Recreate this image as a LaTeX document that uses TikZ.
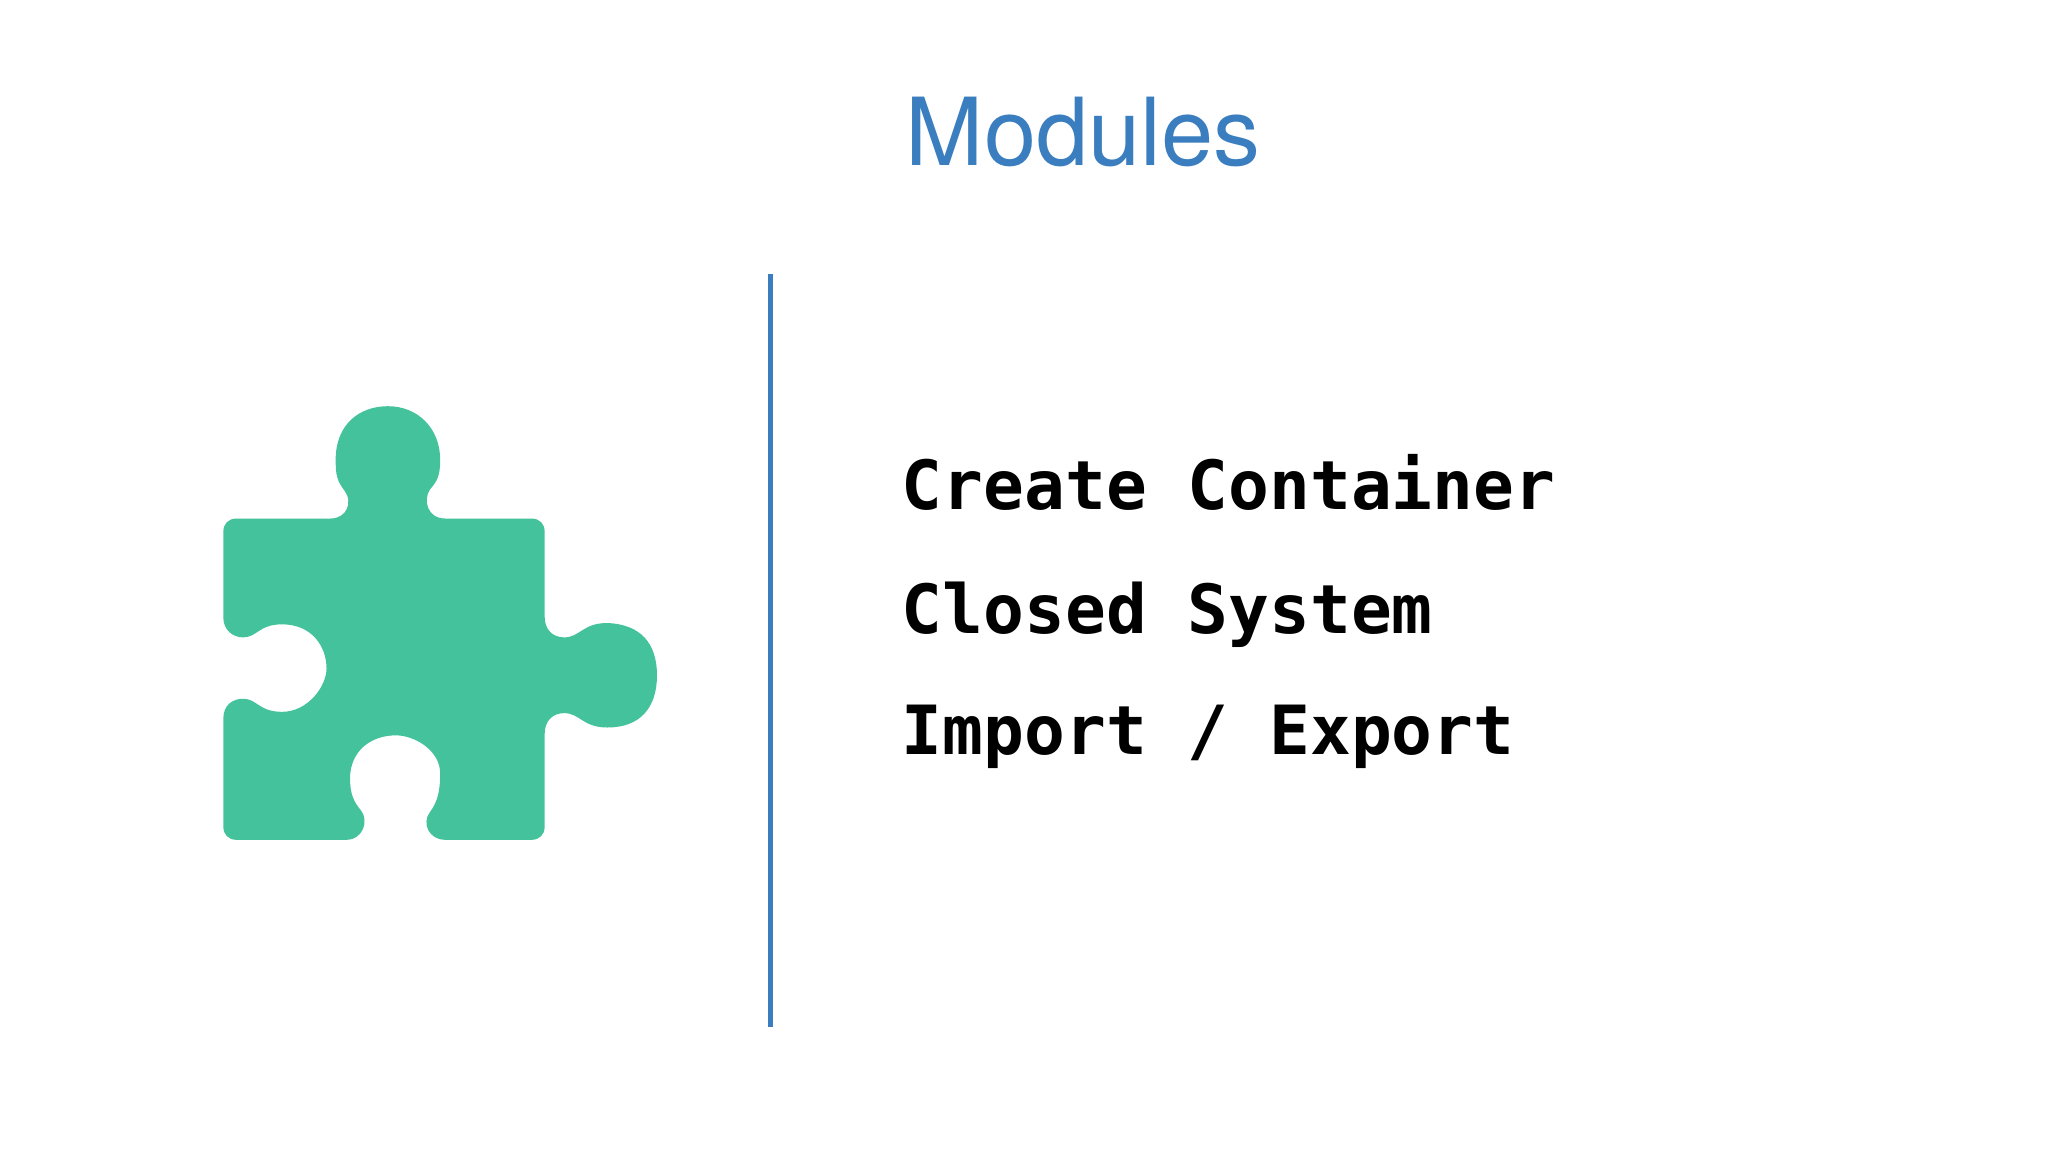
\documentclass[tikz,border=0pt]{standalone}
\usepackage{fontspec}
\newfontfamily\titlefont{TeX Gyre Heros}
\newfontfamily\monofont{DejaVu Sans Mono}
\definecolor{titleblue}{HTML}{3A7EBF}
\definecolor{puzzle}{HTML}{44C29B}
\tikzset{item/.style={anchor=base west,inner sep=0pt,font=\monofont\bfseries\fontsize{19.3}{22}\selectfont}}
\begin{document}
\begin{tikzpicture}[x=0.013061cm,y=-0.013061cm]
\useasboundingbox (0,0) rectangle (1568,882);
\fill[white] (0,0) rectangle (1568,882);
\node[anchor=base west,inner sep=0pt,text=titleblue,font=\titlefont\fontsize{26.7}{30}\selectfont] (title) at (693,127) {Modules};
\coordinate (lt) at (590,210);
\coordinate (lb) at (590,786);
\draw[titleblue,line width=1.5pt] (lt) -- (lb);
\fill[puzzle] (181,397) -- (253,397)
 .. controls (266,397) and (270,384) .. (264,376)
 .. controls (258,368) and (257,364) .. (257,352)
 .. controls (257,325) and (275,311) .. (297,311)
 .. controls (320,311) and (337,328) .. (337,352)
 .. controls (337,364) and (335,368) .. (329,375)
 .. controls (324,383) and (327,397) .. (341,397)
 -- (407,397) .. controls (413,397) and (417,401) .. (417,407)
 -- (417,472) .. controls (417,482) and (423,488) .. (432,488)
 .. controls (444,488) and (446,477) .. (465,477)
 .. controls (490,478) and (503,492) .. (503,517)
 .. controls (503,542) and (490,557) .. (465,557)
 .. controls (446,557) and (444,546) .. (432,546)
 .. controls (423,546) and (417,552) .. (417,562)
 -- (417,633) .. controls (417,639) and (413,643) .. (407,643)
 -- (341,643) .. controls (328,643) and (323,630) .. (329,622)
 .. controls (335,614) and (337,606) .. (337,592)
 .. controls (337,575) and (318,563) .. (303,563)
 .. controls (284,563) and (268,575) .. (268,596)
 .. controls (268,608) and (271,614) .. (276,620)
 .. controls (283,628) and (278,643) .. (265,643)
 -- (181,643) .. controls (175,643) and (171,639) .. (171,633)
 -- (171,550) .. controls (171,540) and (178,535) .. (186,535)
 .. controls (197,535) and (198,545) .. (216,545)
 .. controls (236,545) and (250,525) .. (250,512)
 .. controls (250,494) and (238,478) .. (216,478)
 .. controls (198,478) and (197,488) .. (186,488)
 .. controls (178,488) and (171,482) .. (171,473)
 -- (171,407) .. controls (171,401) and (175,397) .. (181,397) -- cycle;
\node[item] (a) at (690,390) {Create Container};
\node[item] (b) at (690,485) {Closed System};
\node[item] (c) at (690,578) {Import / Export};
\end{tikzpicture}
\end{document}
